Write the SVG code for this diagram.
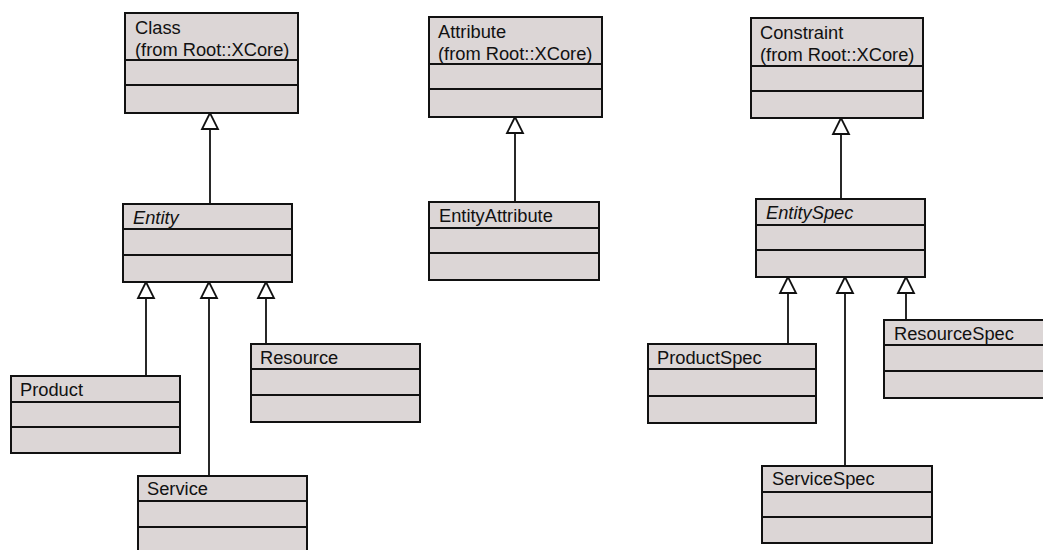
<svg xmlns="http://www.w3.org/2000/svg" width="1043" height="550" viewBox="0 0 1043 550">
<style>
.box{fill:#dcd6d6;stroke:#111;stroke-width:2}
.sep{stroke:#111;stroke-width:2}
.t{font-family:"Liberation Sans",Arial,sans-serif;font-size:18.3px;fill:#111}
.i{font-style:italic}
.edge{stroke:#111;stroke-width:1.8;fill:none}
.head{fill:#fff;stroke:#111;stroke-width:1.8}
</style>
<rect width="1043" height="550" fill="#fff"/>
<g id="connectors">
<line class="edge" x1="210" y1="129" x2="210" y2="204"/>
<polygon class="head" points="210,113 202,129 218,129"/>
<line class="edge" x1="515" y1="133" x2="515" y2="202"/>
<polygon class="head" points="515,117 507,133 523,133"/>
<line class="edge" x1="841" y1="134" x2="841" y2="199"/>
<polygon class="head" points="841,118 833,134 849,134"/>
<line class="edge" x1="146" y1="298" x2="146" y2="376"/>
<polygon class="head" points="146,282 138,298 154,298"/>
<line class="edge" x1="209" y1="298" x2="209" y2="476"/>
<polygon class="head" points="209,282 201,298 217,298"/>
<line class="edge" x1="266" y1="298" x2="266" y2="344"/>
<polygon class="head" points="266,282 258,298 274,298"/>
<line class="edge" x1="788" y1="293" x2="788" y2="344"/>
<polygon class="head" points="788,277 780,293 796,293"/>
<line class="edge" x1="845" y1="293" x2="845" y2="466"/>
<polygon class="head" points="845,277 837,293 853,293"/>
<line class="edge" x1="906" y1="293" x2="906" y2="320"/>
<polygon class="head" points="906,277 898,293 914,293"/>
</g>
<g id="class">
<rect class="box" x="125" y="13" width="173" height="100"/>
<line class="sep" x1="125" y1="60" x2="298" y2="60"/>
<line class="sep" x1="125" y1="85" x2="298" y2="85"/>
<text class="t" x="135" y="34">Class</text>
<text class="t" x="135" y="56">(from Root::XCore)</text>
</g>
<g id="attribute">
<rect class="box" x="429" y="17" width="173" height="100"/>
<line class="sep" x1="429" y1="64" x2="602" y2="64"/>
<line class="sep" x1="429" y1="89" x2="602" y2="89"/>
<text class="t" x="438" y="38">Attribute</text>
<text class="t" x="438" y="60">(from Root::XCore)</text>
</g>
<g id="constraint">
<rect class="box" x="751" y="18" width="172" height="100"/>
<line class="sep" x1="751" y1="66" x2="923" y2="66"/>
<line class="sep" x1="751" y1="91" x2="923" y2="91"/>
<text class="t" x="760" y="39">Constraint</text>
<text class="t" x="760" y="61">(from Root::XCore)</text>
</g>
<g id="entity">
<rect class="box" x="123" y="204" width="169" height="78"/>
<line class="sep" x1="123" y1="229" x2="292" y2="229"/>
<line class="sep" x1="123" y1="255" x2="292" y2="255"/>
<text class="t i" x="133" y="224">Entity</text>
</g>
<g id="entityattribute">
<rect class="box" x="429" y="202" width="170" height="78"/>
<line class="sep" x1="429" y1="228" x2="599" y2="228"/>
<line class="sep" x1="429" y1="253" x2="599" y2="253"/>
<text class="t" x="439" y="222">EntityAttribute</text>
</g>
<g id="entityspec">
<rect class="box" x="756" y="199" width="169" height="78"/>
<line class="sep" x1="756" y1="225" x2="925" y2="225"/>
<line class="sep" x1="756" y1="250" x2="925" y2="250"/>
<text class="t i" x="766" y="219">EntitySpec</text>
</g>
<g id="product">
<rect class="box" x="11" y="376" width="169" height="77"/>
<line class="sep" x1="11" y1="402" x2="180" y2="402"/>
<line class="sep" x1="11" y1="427" x2="180" y2="427"/>
<text class="t" x="20" y="396">Product</text>
</g>
<g id="service">
<rect class="box" x="138" y="476" width="169" height="80"/>
<line class="sep" x1="138" y1="501" x2="307" y2="501"/>
<line class="sep" x1="138" y1="527" x2="307" y2="527"/>
<text class="t" x="147" y="495">Service</text>
</g>
<g id="resource">
<rect class="box" x="251" y="344" width="169" height="78"/>
<line class="sep" x1="251" y1="369" x2="420" y2="369"/>
<line class="sep" x1="251" y1="395" x2="420" y2="395"/>
<text class="t" x="260" y="364">Resource</text>
</g>
<g id="productspec">
<rect class="box" x="648" y="344" width="168" height="79"/>
<line class="sep" x1="648" y1="369" x2="816" y2="369"/>
<line class="sep" x1="648" y1="396" x2="816" y2="396"/>
<text class="t" x="657" y="364">ProductSpec</text>
</g>
<g id="resourcespec">
<rect class="box" x="884" y="320" width="169" height="78"/>
<line class="sep" x1="884" y1="345" x2="1053" y2="345"/>
<line class="sep" x1="884" y1="371" x2="1053" y2="371"/>
<text class="t" x="894" y="340">ResourceSpec</text>
</g>
<g id="servicespec">
<rect class="box" x="762" y="466" width="170" height="77"/>
<line class="sep" x1="762" y1="492" x2="932" y2="492"/>
<line class="sep" x1="762" y1="517" x2="932" y2="517"/>
<text class="t" x="772" y="485">ServiceSpec</text>
</g>
</svg>
